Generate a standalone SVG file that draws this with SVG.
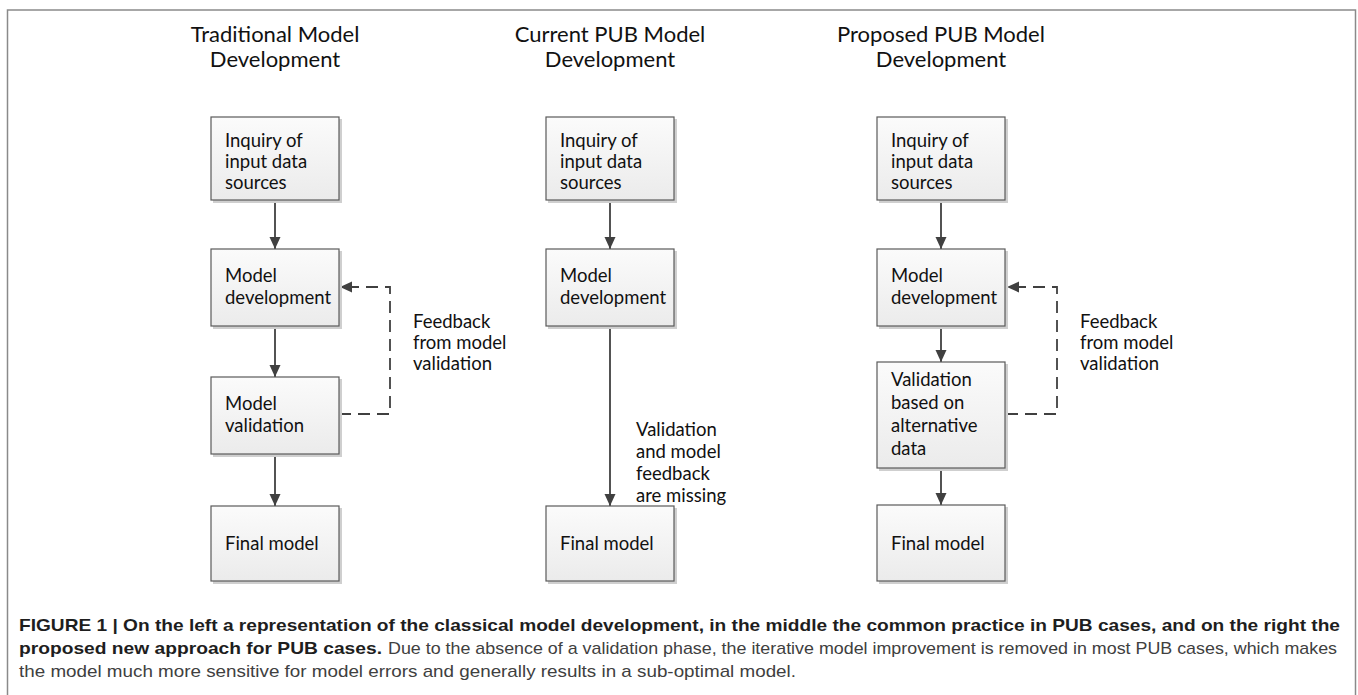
<svg xmlns="http://www.w3.org/2000/svg" width="1358" height="695" viewBox="0 0 1358 695">
<defs>
<linearGradient id="g" x1="0" y1="0" x2="0" y2="1">
<stop offset="0" stop-color="#fbfbfb"/>
<stop offset="1" stop-color="#ebebeb"/>
</linearGradient>
<marker id="ah" markerUnits="userSpaceOnUse" markerWidth="12" markerHeight="14" viewBox="0 0 12 14" refX="12" refY="7" orient="auto">
<path d="M0,1.5 L12,7 L0,12.5 Z" fill="#404040"/>
</marker>
</defs>
<style>
.box{fill:url(#g);stroke:#5a5a5a;stroke-width:1.2}
.sh{fill:#cfcfcf}
.t{font-family:Lato,"Open Sans","Liberation Sans",sans-serif;font-size:18.5px;fill:#111}
.title{font-family:Lato,"Open Sans","Liberation Sans",sans-serif;font-size:22px;fill:#111;text-anchor:middle}
.ln{stroke:#404040;stroke-width:1.8;fill:none}
.dash{stroke:#404040;stroke-width:1.8;fill:none;stroke-dasharray:12,7}
.cb{font-family:"Liberation Sans",Arial,sans-serif;font-size:17px;font-weight:bold;fill:#1e1e1e}
.cr{font-family:"Liberation Sans",Arial,sans-serif;font-size:17px;fill:#404040}
</style>
<rect x="0" y="0" width="1358" height="695" fill="#fff"/>
<path d="M7.5,695 V10 H1355.5 V695" fill="none" stroke="#8a8a8a" stroke-width="1.5"/>

<g id="titles">
<text class="title" x="275" y="42">Traditional Model</text>
<text class="title" x="275" y="67">Development</text>
<text class="title" x="610" y="42">Current PUB Model</text>
<text class="title" x="610" y="67">Development</text>
<text class="title" x="941" y="42">Proposed PUB Model</text>
<text class="title" x="941" y="67">Development</text>
</g>

<g id="connectors">
<line class="ln" x1="275" y1="200" x2="275" y2="249" marker-end="url(#ah)"/>
<line class="ln" x1="275" y1="326" x2="275" y2="377" marker-end="url(#ah)"/>
<line class="ln" x1="275" y1="454" x2="275" y2="506" marker-end="url(#ah)"/>
<path class="dash" d="M339,414 H390 V287 H340" marker-end="url(#ah)"/>
<line class="ln" x1="610" y1="200" x2="610" y2="249" marker-end="url(#ah)"/>
<line class="ln" x1="610" y1="326" x2="610" y2="506" marker-end="url(#ah)"/>
<line class="ln" x1="941" y1="200" x2="941" y2="249" marker-end="url(#ah)"/>
<line class="ln" x1="941" y1="326" x2="941" y2="362" marker-end="url(#ah)"/>
<line class="ln" x1="941" y1="468" x2="941" y2="505" marker-end="url(#ah)"/>
<path class="dash" d="M1006,414 H1057 V287 H1007" marker-end="url(#ah)"/>
</g>

<g id="c1-inquiry">
<rect class="sh" x="213" y="119" width="129" height="84"/>
<rect class="box" x="211" y="117" width="128" height="83"/>
<text class="t" x="225" y="147">Inquiry of</text>
<text class="t" x="225" y="168">input data</text>
<text class="t" x="225" y="189">sources</text>
</g>
<g id="c1-dev">
<rect class="sh" x="213" y="251" width="129" height="78"/>
<rect class="box" x="211" y="249" width="128" height="77"/>
<text class="t" x="225" y="282">Model</text>
<text class="t" x="225" y="304">development</text>
</g>
<g id="c1-val">
<rect class="sh" x="213" y="379" width="129" height="78"/>
<rect class="box" x="211" y="377" width="128" height="77"/>
<text class="t" x="225" y="410">Model</text>
<text class="t" x="225" y="432">validation</text>
</g>
<g id="c1-final">
<rect class="sh" x="213" y="508" width="129" height="76"/>
<rect class="box" x="211" y="506" width="128" height="75"/>
<text class="t" x="225" y="550">Final model</text>
</g>
<g id="c1-feedback">
<text class="t" x="413" y="328">Feedback</text>
<text class="t" x="413" y="349">from model</text>
<text class="t" x="413" y="370">validation</text>
</g>

<g id="c2-inquiry">
<rect class="sh" x="548" y="119" width="129" height="84"/>
<rect class="box" x="546" y="117" width="128" height="83"/>
<text class="t" x="560" y="147">Inquiry of</text>
<text class="t" x="560" y="168">input data</text>
<text class="t" x="560" y="189">sources</text>
</g>
<g id="c2-dev">
<rect class="sh" x="548" y="251" width="129" height="78"/>
<rect class="box" x="546" y="249" width="128" height="77"/>
<text class="t" x="560" y="282">Model</text>
<text class="t" x="560" y="304">development</text>
</g>
<g id="c2-final">
<rect class="sh" x="548" y="508" width="129" height="76"/>
<rect class="box" x="546" y="506" width="128" height="75"/>
<text class="t" x="560" y="550">Final model</text>
</g>
<g id="c2-missing">
<text class="t" x="636" y="436">Validation</text>
<text class="t" x="636" y="458">and model</text>
<text class="t" x="636" y="480">feedback</text>
<text class="t" x="636" y="502">are missing</text>
</g>

<g id="c3-inquiry">
<rect class="sh" x="879" y="119" width="129" height="84"/>
<rect class="box" x="877" y="117" width="128" height="83"/>
<text class="t" x="891" y="147">Inquiry of</text>
<text class="t" x="891" y="168">input data</text>
<text class="t" x="891" y="189">sources</text>
</g>
<g id="c3-dev">
<rect class="sh" x="879" y="251" width="129" height="78"/>
<rect class="box" x="877" y="249" width="128" height="77"/>
<text class="t" x="891" y="282">Model</text>
<text class="t" x="891" y="304">development</text>
</g>
<g id="c3-val">
<rect class="sh" x="879" y="364" width="129" height="107"/>
<rect class="box" x="877" y="362" width="128" height="106"/>
<text class="t" x="891" y="386">Validation</text>
<text class="t" x="891" y="409">based on</text>
<text class="t" x="891" y="432">alternative</text>
<text class="t" x="891" y="455">data</text>
</g>
<g id="c3-final">
<rect class="sh" x="879" y="507" width="129" height="77"/>
<rect class="box" x="877" y="505" width="128" height="76"/>
<text class="t" x="891" y="550">Final model</text>
</g>
<g id="c3-feedback">
<text class="t" x="1080" y="328">Feedback</text>
<text class="t" x="1080" y="349">from model</text>
<text class="t" x="1080" y="370">validation</text>
</g>

<g id="caption">
<text class="cb" x="19" y="631" textLength="1321" lengthAdjust="spacingAndGlyphs">FIGURE 1 | On the left a representation of the classical model development, in the middle the common practice in PUB cases, and on the right the</text>
<text class="cb" x="19" y="654" textLength="363" lengthAdjust="spacingAndGlyphs">proposed new approach for PUB cases.</text>
<text class="cr" x="388" y="654" textLength="949" lengthAdjust="spacingAndGlyphs">Due to the absence of a validation phase, the iterative model improvement is removed in most PUB cases, which makes</text>
<text class="cr" x="19" y="677" textLength="777" lengthAdjust="spacingAndGlyphs">the model much more sensitive for model errors and generally results in a sub-optimal model.</text>
</g>
</svg>
